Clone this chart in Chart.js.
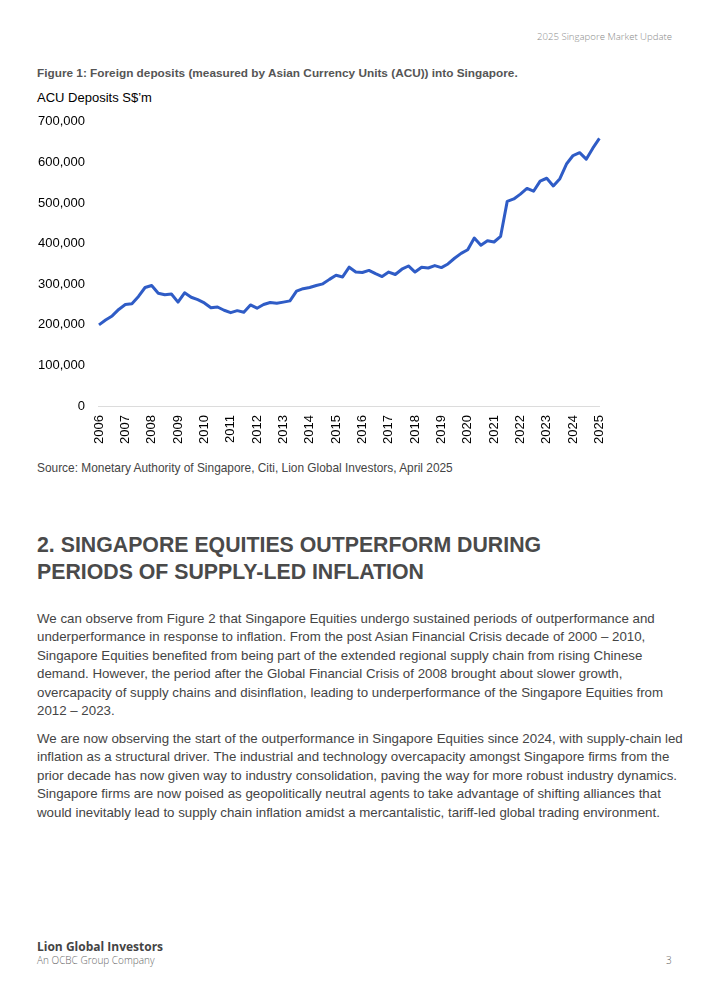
<!DOCTYPE html>
<html>
<head>
<meta charset="utf-8">
<script src="https://cdn.jsdelivr.net/npm/chart.js@4.4.1/dist/chart.umd.min.js"></script>
<style>
  html, body { margin: 0; padding: 0; background: #fff; }
  body { width: 707px; height: 1000px; position: relative; overflow: hidden; font-family: "Liberation Sans", Arial, sans-serif; }
  .abs { position: absolute; white-space: nowrap; }
  #hdr { right: 35px; top: 30px; font-family: "Open Sans", sans-serif; font-weight: 300; font-size: 9.6px; color: #8a8a8a; }
  #cap { left: 37px; top: 66px; font-weight: bold; font-size: 11.8px; color: #555; }
  #ytitle { left: 37px; top: 90px; font-size: 13px; color: #000; }
  #chartBox { position: absolute; left: 24px; top: 100px; width: 600px; height: 353px; }
  #src { left: 37px; top: 461px; font-size: 11.9px; color: #444; }
  #h2 { left: 37px; top: 532px; font-weight: bold; font-size: 21.3px; line-height: 27px; color: #4a4a4a; }
  .para { left: 37px; font-size: 13.3px; line-height: 18.4px; color: #444; }
  #p1 { top: 610px; }
  #p2 { top: 730px; }
  #ft1 { left: 37px; top: 938px; font-family: "Open Sans", sans-serif; font-weight: 700; font-size: 12px; color: #444; }
  #ft2 { left: 37px; top: 953px; font-family: "Open Sans", sans-serif; font-weight: 300; font-size: 10px; color: #666; }
  #pg { left: 666px; top: 953px; font-family: "Open Sans", sans-serif; font-weight: 300; font-size: 10px; color: #666; }
</style>
</head>
<body>
<div class="abs" id="hdr">2025 Singapore Market Update</div>
<div class="abs" id="cap">Figure 1: Foreign deposits (measured by Asian Currency Units (ACU)) into Singapore.</div>
<div class="abs" id="ytitle">ACU Deposits S$’m</div>
<div id="chartBox"><canvas id="c"></canvas></div>
<div class="abs" id="src">Source: Monetary Authority of Singapore, Citi, Lion Global Investors, April 2025</div>
<div class="abs" id="h2">2. SINGAPORE EQUITIES OUTPERFORM DURING<br>PERIODS OF SUPPLY-LED INFLATION</div>
<div class="abs para" id="p1">We can observe from Figure 2 that Singapore Equities undergo sustained periods of outperformance and<br>underperformance in response to inflation. From the post Asian Financial Crisis decade of 2000 – 2010,<br>Singapore Equities benefited from being part of the extended regional supply chain from rising Chinese<br>demand. However, the period after the Global Financial Crisis of 2008 brought about slower growth,<br>overcapacity of supply chains and disinflation, leading to underperformance of the Singapore Equities from<br>2012 – 2023.</div>
<div class="abs para" id="p2">We are now observing the start of the outperformance in Singapore Equities since 2024, with supply-chain led<br>inflation as a structural driver. The industrial and technology overcapacity amongst Singapore firms from the<br>prior decade has now given way to industry consolidation, paving the way for more robust industry dynamics.<br>Singapore firms are now poised as geopolitically neutral agents to take advantage of shifting alliances that<br>would inevitably lead to supply chain inflation amidst a mercantalistic, tariff-led global trading environment.</div>
<div class="abs" id="ft1">Lion Global Investors</div>
<div class="abs" id="ft2">An OCBC Group Company</div>
<div class="abs" id="pg">3</div>

<script>
// Quarterly periods, 2006 Q1 .. 2025 Q1
const years = ["2006","2007","2008","2009","2010","2011","2012","2013","2014","2015","2016","2017","2018","2019","2020","2021","2022","2023","2024","2025"];
const quarters = ["Q1","Q2","Q3","Q4"];
// ACU deposits, S$ million
const acuDeposits = [
  200000, 212000, 222000, 238000,   // 2006
  250000, 252000, 270000, 292000,   // 2007
  297000, 278000, 274000, 276000,   // 2008
  256000, 279000, 268000, 262000,   // 2009
  254000, 242000, 244000, 236000,   // 2010
  230000, 235000, 231000, 249000,   // 2011
  241000, 250000, 255000, 253000,   // 2012
  256000, 259000, 283000, 289000,   // 2013
  292000, 297000, 301000, 312000,   // 2014
  322000, 318000, 342000, 330000,   // 2015
  329000, 334000, 326000, 319000,   // 2016
  330000, 324000, 337000, 345000,   // 2017
  330000, 342000, 340000, 346000,   // 2018
  341000, 350000, 364000, 376000,   // 2019
  385000, 414000, 396000, 407000,   // 2020
  404000, 418000, 504000, 510000,   // 2021
  522000, 536000, 529000, 554000,   // 2022
  561000, 542000, 560000, 596000,   // 2023
  617000, 624000, 608000, 635000,   // 2024
  659000                            // 2025
];
const yTicks = [0, 100000, 200000, 300000, 400000, 500000, 600000, 700000];

const labels = [];
for (const y of years) {
  for (const q of quarters) {
    if (labels.length < acuDeposits.length) labels.push(y + " " + q);
  }
}

new Chart(document.getElementById("c"), {
  type: "line",
  data: {
    labels: labels,
    datasets: [{
      data: acuDeposits,
      borderColor: "#2f5cc6",
      borderWidth: 3,
      pointRadius: 0,
      tension: 0,
      borderJoinStyle: "round",
      fill: false
    }]
  },
  options: {
    responsive: true,
    maintainAspectRatio: false,
    animation: false,
    layout: { padding: { top: 8, right: 4, bottom: 0, left: 0 } },
    plugins: { legend: { display: false }, tooltip: { enabled: false } },
    scales: {
      x: {
        type: "category",
        offset: false,
        grid: { display: false, drawTicks: false },
        border: { display: true, color: "#dcdcdc", width: 1 },
        ticks: {
          autoSkip: false,
          maxRotation: 90,
          minRotation: 90,
          padding: 9,
          color: "#000",
          font: { family: "'Liberation Sans', Arial, sans-serif", size: 13 },
          callback: function (val, idx) {
            const l = labels[idx];
            return l.endsWith("Q1") ? l.slice(0, 4) : "";
          }
        }
      },
      y: {
        min: 0,
        max: 700000,
        afterBuildTicks: (axis) => { axis.ticks = yTicks.map(v => ({ value: v })); },
        grid: { display: false, drawTicks: false },
        border: { display: false },
        ticks: {
          padding: 14,
          color: "#000",
          font: { family: "'Liberation Sans', Arial, sans-serif", size: 13 },
          callback: (v) => v.toLocaleString("en-US")
        }
      }
    }
  }
});
</script>
</body>
</html>
